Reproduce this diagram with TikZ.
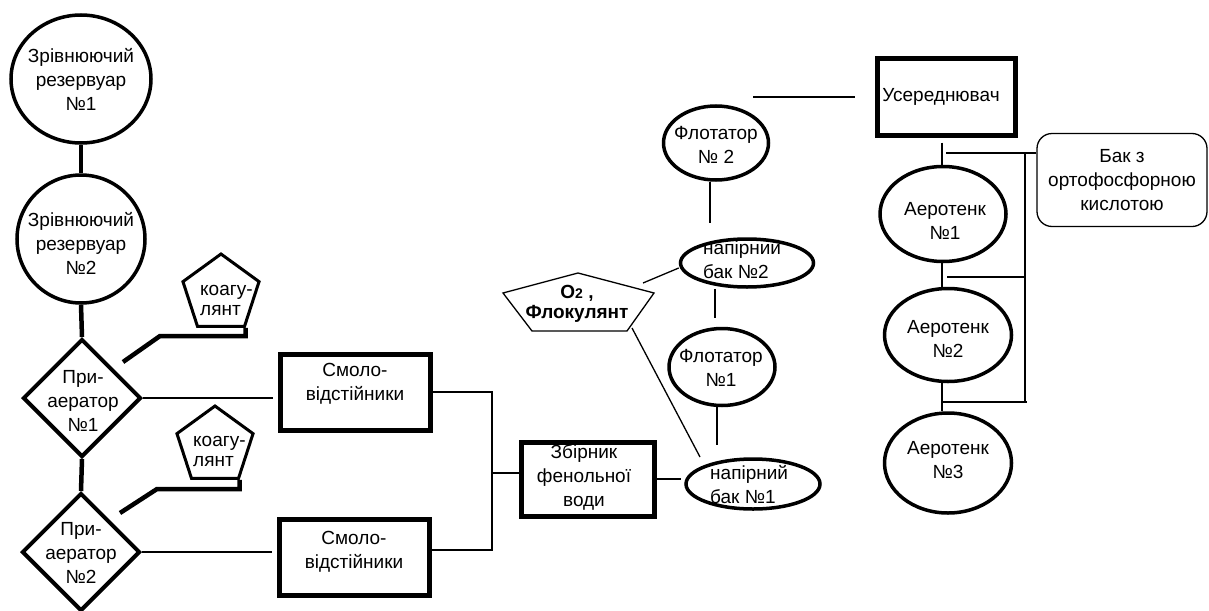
\documentclass[tikz,border=0pt]{standalone}
\usepackage{fontspec}
\setmainfont{Liberation Sans}
\usetikzlibrary{shapes.geometric}
\tikzset{
  lbl/.style={font=\fontsize{19}{24}\selectfont, align=center, inner sep=0pt},
  plbl/.style={font=\fontsize{19}{20}\selectfont, align=left, inner sep=0pt, anchor=west},
  tank/.style={ellipse, draw, line width=3.5pt, inner sep=0pt},
  boxn/.style={rectangle, draw, line width=5pt, inner sep=0pt},
  dia/.style={diamond, draw, line width=4pt, inner sep=0pt, minimum width=118pt, minimum height=118pt},
  pent/.style={regular polygon, regular polygon sides=5, draw, line width=3pt, inner sep=0pt, minimum size=80pt},
  thk/.style={line width=4.5pt},
  thn/.style={line width=1.3pt},
}
\begin{document}
\begin{tikzpicture}[x=1pt,y=-1pt]
\fill[white] (0,0) rectangle (1209,610);
\useasboundingbox (0,0) rectangle (1209,610);

% left column
\node[tank, minimum width=140, minimum height=128] (r1) at (81,79) {};
\node[lbl] (r1t) at (81,79) {Зрівнюючий\\резервуар\\№1};
\node[tank, minimum width=128, minimum height=128] (r2) at (81,239) {};
\node[lbl] (r2t) at (81,243) {Зрівнюючий\\резервуар\\№2};
\node[dia] (d1) at (82,398) {};
\node[lbl] (d1t) at (83,401) {При-\\аератор\\№1};
\node[dia] (d2) at (81,552) {};
\node[lbl] (d2t) at (81,553) {При-\\аератор\\№2};

\draw[thk] (r1.south) -- (r2.north);
\draw[thk] (r2.south) -- (d1.north);
\draw[thk] (d1.south) -- (d2.north);

% coagulant pentagons
\node[pent] (p1) at (221,294) {};
\node[plbl] (p1t) at (200,300) {коагу-\\лянт};
\node[pent] (p2) at (215,446) {};
\node[plbl] (p2t) at (193,451) {коагу-\\лянт};
\coordinate (k1a) at (160,336);
\coordinate (k1b) at (123,362);
\coordinate (k2a) at (157,489);
\coordinate (k2b) at (120,513);
\draw[thk] (p1.corner 4) |- (k1a) -- (k1b);
\draw[thk] (p2.corner 4) |- (k2a) -- (k2b);

% settling tanks
\node[boxn, minimum width=150, minimum height=76] (sm1) at (355,392) {};
\node[lbl] (sm1t) at (355,384) {Смоло-\\відстійники};
\node[boxn, minimum width=150, minimum height=76] (sm2) at (354,557) {};
\node[lbl] (sm2t) at (354,552) {Смоло-\\відстійники};
\node[boxn, minimum width=133, minimum height=74] (zb) at (588,479) {};
\node[lbl] (zbt) at (584,477) {Збірник\\фенольної\\води};

\draw[thn, shorten >=5pt] (d1.east) -- (d1.east -| sm1.west);
\draw[thn, shorten >=5pt] (d2.east) -- (d2.east -| sm2.west);
\coordinate (bus) at (492,473);
\draw[thn] (sm1.east) -| (bus) |- ([yshift=7pt]sm2.east);
\draw[thn] (bus) -- (bus -| zb.west);

% flotation
\node[tank, minimum width=105, minimum height=74] (fl2) at (716,143) {};
\node[lbl] (fl2t) at (716,145) {Флотатор\\№ 2};
\node[tank, minimum width=133, minimum height=48] (nb2) at (747,263) {};
\node[plbl, font=\fontsize{19}{24}\selectfont] (nb2t) at (703,260) {напірний\\бак №2};
\node[tank, minimum width=106, minimum height=77] (fl1) at (722,367) {};
\node[lbl] (fl1t) at (721,368) {Флотатор\\№1};
\node[tank, minimum width=134, minimum height=50] (nb1) at (753,484) {};
\node[plbl, font=\fontsize{19}{24}\selectfont] (nb1t) at (710,485) {напірний\\бак №1};

\draw[thn, shorten >=3pt] (zb.east) -- (zb.east -| nb1.west);

\coordinate (s1) at (710,223);
\coordinate (s2) at (715,318);
\coordinate (s3) at (717,445);
\draw[thn] (s1 |- fl2.south) -- (s1);
\draw[thn] (s2 |- nb2.south) -- (s2);
\draw[thn] (s3 |- fl1.south) -- (s3);

% O2 / flocculant pentagon
\coordinate (oA) at (578,273);
\coordinate (oB) at (654,293);
\coordinate (oC) at (627,331);
\coordinate (oD) at (532,331);
\coordinate (oE) at (503,293);
\draw[thn] (oA) -- (oB) -- (oC) -- (oD) -- (oE) -- cycle;
\node[lbl, font=\fontsize{19}{20}\selectfont\bfseries] (o2) at (577,304) {O{\fontsize{14}{14}\selectfont 2} ,\\Флокулянт};
\coordinate (o2a) at (643,283);
\coordinate (o2b) at (632,328);
\coordinate (s4) at (700,457);
\draw[thn] (o2a) -- ([yshift=-5pt]nb2.west);
\draw[thn] (o2b) -- (s4);

% equaliser
\node[boxn, minimum width=138, minimum height=76] (usr) at (946,97) {};
\node[lbl] (usrt) at (941,97) {Усереднювач};
\draw[thn] ([xshift=-20pt]usr.west) -- ++(-102,0);

% phosphoric acid tank
\node[lbl, draw, line width=1.3pt, rounded corners=15pt, minimum width=170, minimum height=93] (bak) at (1122,180) {Бак з\\ортофосфорною\\кислотою};

% aerotanks
\node[tank, minimum width=126, minimum height=95] (a1) at (943,214) {};
\node[lbl] (a1t) at (945,221) {Аеротенк\\№1};
\node[tank, minimum width=127, minimum height=93] (a2) at (948,335) {};
\node[lbl] (a2t) at (948,339) {Аеротенк\\№2};
\node[tank, minimum width=127, minimum height=100] (a3) at (948,463) {};
\node[lbl] (a3t) at (948,460) {Аеротенк\\№3};

\coordinate (col) at (942,0);
\coordinate (bx) at (1025,0);
\draw[thn, shorten <=5pt] (col |- usr.south) -- (col |- a1.north);
\draw[thn] (col |- a1.south) -- (col |- a2.north);
\draw[thn] (col |- a2.south) -- (col |- a3.north);
\coordinate (h1) at (946,153);
\coordinate (h2) at (947,277);
\coordinate (h3) at (942,402);
\draw[thn] (h1 -| bak.west) -- (h1);
\draw[thn] (bx |- h1) -- (bx |- h3);
\draw[thn] (h2) -- (bx |- h2);
\draw[thn] (h3) -- ([xshift=2pt]bx |- h3);
\end{tikzpicture}
\end{document}
